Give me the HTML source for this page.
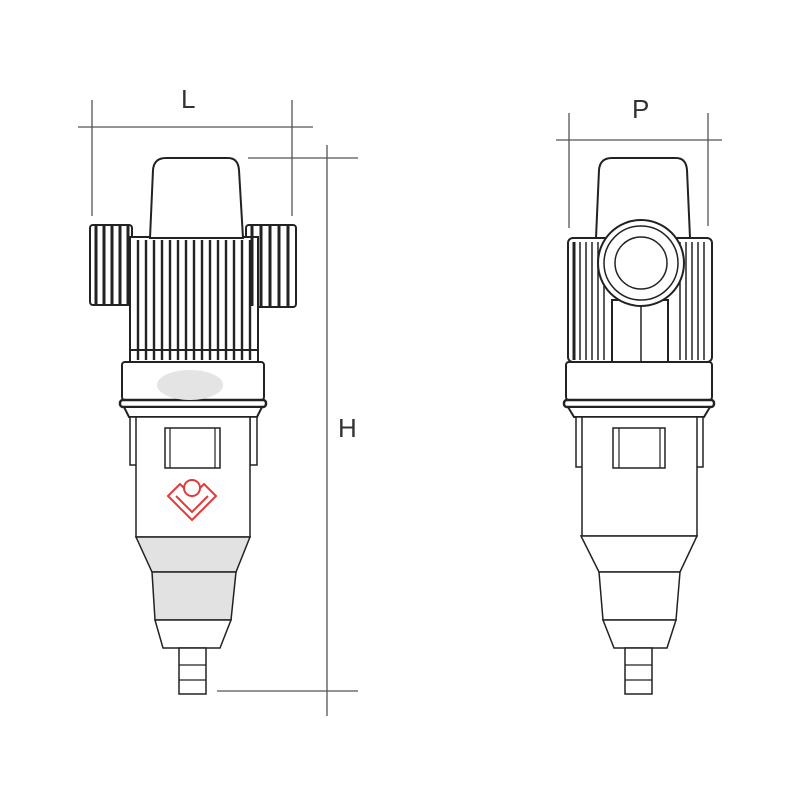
<!DOCTYPE html>
<html><head><meta charset="utf-8"><style>
html,body{margin:0;padding:0;background:#fff;width:800px;height:800px;overflow:hidden}
svg{display:block}
text{font-family:"Liberation Sans",sans-serif;font-size:26px;fill:#333}
</style></head><body>
<svg id="s" width="800" height="800" viewBox="0 0 800 800" xmlns="http://www.w3.org/2000/svg">
<g stroke="#555" stroke-width="1.3" fill="none">
<line x1="78" y1="127" x2="313" y2="127"/>
<line x1="92" y1="100" x2="92" y2="216"/>
<line x1="292" y1="100" x2="292" y2="216"/>
<line x1="327" y1="145" x2="327" y2="716"/>
<line x1="248" y1="158" x2="358" y2="158"/>
<line x1="217" y1="691" x2="358" y2="691"/>
<line x1="556" y1="140" x2="722" y2="140"/>
<line x1="569" y1="113" x2="569" y2="228"/>
<line x1="708" y1="113" x2="708" y2="226"/>
</g>
<text x="181" y="108">L</text>
<text x="338" y="437">H</text>
<text x="632" y="118">P</text>

<g id="L" stroke="#222" stroke-width="2" fill="#fff">
<rect x="90" y="225" width="42" height="80" rx="3"/>
<rect x="246" y="225" width="50" height="82" rx="3"/>
<rect x="130" y="237" width="128" height="125"/>
<path d="M150,238 L153,170 Q154,158 166,158 L228,158 Q238,158 239,170 L243,238 Z"/>
<rect x="122" y="362" width="142" height="38" rx="3"/>
<rect x="120" y="400" width="146" height="7" rx="3" stroke-width="2.5"/>
<path d="M124,407 L262,407 L257,417 L129,417 Z"/>
<rect x="130" y="417" width="7" height="48" stroke-width="1.5"/>
<rect x="250" y="417" width="7" height="48" stroke-width="1.5"/>
<rect x="136" y="417" width="114" height="120" stroke-width="1.5"/>
<rect x="165" y="428" width="55" height="40" stroke-width="1.5"/>
<path d="M136,537 L250,537 L236,572 L152,572 Z" fill="#e2e2e2" stroke-width="1.5"/>
<path d="M152,572 L236,572 L231,620 L155,620 Z" fill="#e2e2e2" stroke-width="1.5"/>
<path d="M155,620 L231,620 L220,648 L163,648 Z" stroke-width="1.5"/>
<path d="M179,648 L206,648 L206,694 L179,694 Z" stroke-width="1.5"/>
</g>
<ellipse cx="190" cy="385" rx="33" ry="15" fill="#e4e4e4"/>
<g stroke="#e03a3a" stroke-width="2" fill="none">
<path d="M168,496 L180,484 L192,496 L204,484 L216,496 L192,520 Z"/>
<path d="M176,496 L192,512 L208,496"/>
<circle cx="192" cy="488" r="8" fill="#fff"/>
</g>
<g id="ribsL" stroke="#222" stroke-width="1.6"></g>

<g stroke="#222" stroke-width="2" fill="#fff">
<rect x="568" y="238" width="144" height="124" rx="5"/>
<path d="M596,238 L599,170 Q600,158 612,158 L676,158 Q686,158 687,170 L690,238 Z"/>
<rect x="566" y="362" width="146" height="38" rx="3"/>
<rect x="564" y="400" width="150" height="7" rx="3" stroke-width="2.5"/>
<path d="M568,407 L710,407 L704,417 L574,417 Z"/>
<rect x="576" y="417" width="7" height="50" stroke-width="1.5"/>
<rect x="696" y="417" width="7" height="50" stroke-width="1.5"/>
<rect x="582" y="417" width="115" height="119" stroke-width="1.5"/>
<rect x="613" y="428" width="52" height="40" stroke-width="1.5"/>
<path d="M581,536 L697,536 L680,572 L599,572 Z" stroke-width="1.5"/>
<path d="M599,572 L680,572 L676,620 L603,620 Z" stroke-width="1.5"/>
<path d="M603,620 L676,620 L667,648 L614,648 Z" stroke-width="1.5"/>
<path d="M625,648 L652,648 L652,694 L625,694 Z" stroke-width="1.5"/>
</g>
<g id="ribsR" stroke="#222" stroke-width="1.5"></g>
<g stroke="#222" stroke-width="2" fill="#fff">
<rect x="612" y="300" width="56" height="62"/>
<circle cx="641" cy="263" r="43"/>
<circle cx="641" cy="263" r="37" stroke-width="1.5"/>
<circle cx="641" cy="263" r="26" stroke-width="1.5"/>
</g>
<g stroke="#222" stroke-width="1.2">
<line x1="641" y1="306" x2="641" y2="362" stroke-width="1.5"/>
<line x1="179" y1="665" x2="206" y2="665"/><line x1="179" y1="680" x2="206" y2="680"/>
<line x1="170" y1="428" x2="170" y2="468"/><line x1="215" y1="428" x2="215" y2="468"/>
<line x1="625" y1="665" x2="652" y2="665"/><line x1="625" y1="680" x2="652" y2="680"/>
<line x1="619" y1="428" x2="619" y2="468"/><line x1="660" y1="428" x2="660" y2="468"/>
</g>
<script>
var ns="http://www.w3.org/2000/svg";
function ln(g,x1,y1,x2,y2,w){var l=document.createElementNS(ns,"line");l.setAttribute("x1",x1);l.setAttribute("y1",y1);l.setAttribute("x2",x2);l.setAttribute("y2",y2);if(w)l.setAttribute("stroke-width",w);g.appendChild(l);}
var gL=document.getElementById("ribsL");
for(var x=96;x<132;x+=8){ln(gL,x,226,x,304,3);}
for(var x=252;x<296;x+=9){ln(gL,x,226,x,306,3);}
for(var x=138;x<258;x+=8){ln(gL,x,240,x,360,2.4);}
ln(gL,130,350,258,350,2);
var gR=document.getElementById("ribsR");
for(var x=574;x<605;x+=6){ln(gR,x,242,x,360,x<580?3:1.5);}
for(var x=680;x<710;x+=6){ln(gR,x,242,x,360,1.5);}
</script>
</svg>
</body></html>
